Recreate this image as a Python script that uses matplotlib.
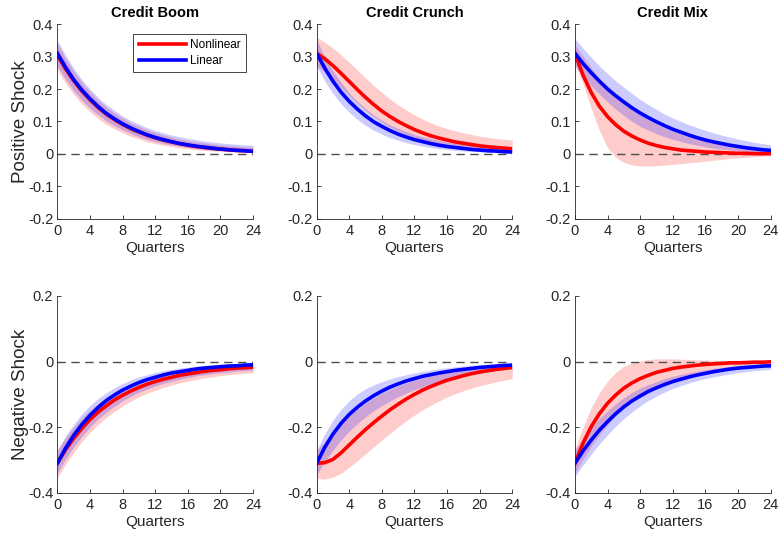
import numpy as np
import matplotlib
matplotlib.use("Agg")
import matplotlib.pyplot as plt

plt.rcParams["font.family"] = ["Liberation Sans", "DejaVu Sans"]
plt.rcParams["axes.unicode_minus"] = False

quarters = np.arange(25)
titles = ["Credit Boom", "Credit Crunch", "Credit Mix"]
row_labels = ["Positive Shock", "Negative Shock"]
x_ticks = [0, 4, 8, 12, 16, 20, 24]

# Positive shock -- Credit Boom
boom_pos_nl = [0.305, 0.262, 0.226, 0.194, 0.167, 0.143, 0.123, 0.106, 0.091, 0.078, 0.068, 0.058, 0.050,
               0.043, 0.037, 0.032, 0.027, 0.023, 0.020, 0.017, 0.015, 0.013, 0.011, 0.010, 0.008]
boom_pos_nl_hi = [0.340, 0.294, 0.255, 0.221, 0.191, 0.166, 0.145, 0.126, 0.110, 0.096, 0.085, 0.074, 0.066,
                  0.058, 0.052, 0.046, 0.041, 0.037, 0.034, 0.031, 0.028, 0.026, 0.024, 0.022, 0.021]
boom_pos_nl_lo = [0.260, 0.218, 0.184, 0.154, 0.130, 0.109, 0.091, 0.077, 0.065, 0.054, 0.046, 0.038, 0.032,
                  0.027, 0.023, 0.019, 0.016, 0.013, 0.011, 0.010, 0.008, 0.007, 0.006, 0.005, 0.004]
boom_pos_lin = [0.310, 0.267, 0.229, 0.197, 0.170, 0.146, 0.125, 0.108, 0.093, 0.080, 0.069, 0.059, 0.051,
                0.044, 0.038, 0.032, 0.028, 0.024, 0.021, 0.018, 0.015, 0.013, 0.011, 0.010, 0.008]
boom_pos_lin_hi = [0.350, 0.304, 0.264, 0.229, 0.200, 0.174, 0.152, 0.134, 0.117, 0.103, 0.092, 0.081, 0.072,
                   0.065, 0.058, 0.053, 0.048, 0.044, 0.040, 0.037, 0.034, 0.032, 0.030, 0.028, 0.027]
boom_pos_lin_lo = [0.270, 0.230, 0.195, 0.166, 0.141, 0.120, 0.102, 0.087, 0.074, 0.063, 0.053, 0.045, 0.038,
                   0.033, 0.028, 0.024, 0.020, 0.017, 0.015, 0.012, 0.011, 0.009, 0.008, 0.006, 0.006]

# Positive shock -- Credit Crunch
crunch_pos_nl = [0.310, 0.293, 0.272, 0.248, 0.223, 0.198, 0.174, 0.152, 0.132, 0.115, 0.100, 0.087, 0.075,
                 0.065, 0.056, 0.049, 0.043, 0.037, 0.033, 0.029, 0.025, 0.022, 0.020, 0.018, 0.016]
crunch_pos_nl_hi = [0.360, 0.344, 0.326, 0.305, 0.282, 0.258, 0.234, 0.211, 0.189, 0.169, 0.151, 0.135, 0.120,
                    0.107, 0.096, 0.086, 0.078, 0.071, 0.065, 0.060, 0.055, 0.051, 0.048, 0.045, 0.043]
crunch_pos_nl_lo = [0.270, 0.252, 0.230, 0.205, 0.180, 0.156, 0.134, 0.115, 0.098, 0.083, 0.070, 0.059, 0.050,
                    0.042, 0.035, 0.029, 0.024, 0.020, 0.017, 0.014, 0.012, 0.010, 0.008, 0.007, 0.006]
crunch_pos_lin = [0.310, 0.264, 0.224, 0.190, 0.162, 0.138, 0.117, 0.099, 0.085, 0.072, 0.061, 0.052, 0.044,
                  0.038, 0.032, 0.027, 0.023, 0.020, 0.017, 0.014, 0.012, 0.010, 0.009, 0.007, 0.006]
crunch_pos_lin_hi = [0.350, 0.299, 0.256, 0.220, 0.188, 0.162, 0.140, 0.120, 0.104, 0.090, 0.079, 0.069, 0.060,
                     0.053, 0.047, 0.042, 0.037, 0.033, 0.030, 0.027, 0.025, 0.023, 0.021, 0.020, 0.019]
crunch_pos_lin_lo = [0.270, 0.224, 0.186, 0.154, 0.128, 0.106, 0.088, 0.073, 0.061, 0.050, 0.042, 0.035, 0.029,
                     0.024, 0.020, 0.016, 0.014, 0.011, 0.009, 0.008, 0.007, 0.005, 0.004, 0.004, 0.003]

# Positive shock -- Credit Mix
mix_pos_nl = [0.310, 0.242, 0.189, 0.147, 0.115, 0.090, 0.070, 0.055, 0.043, 0.033, 0.026, 0.020, 0.016,
              0.012, 0.010, 0.008, 0.006, 0.005, 0.004, 0.003, 0.002, 0.002, 0.001, 0.001, 0.001]
mix_pos_nl_hi = [0.335, 0.300, 0.265, 0.232, 0.203, 0.178, 0.157, 0.138, 0.120, 0.105, 0.092, 0.080, 0.070,
                 0.061, 0.053, 0.046, 0.040, 0.034, 0.029, 0.025, 0.021, 0.018, 0.015, 0.012, 0.010]
mix_pos_nl_lo = [0.280, 0.215, 0.140, 0.072, 0.020, -0.010, -0.026, -0.034, -0.037, -0.037, -0.036, -0.034, -0.032,
                 -0.030, -0.027, -0.025, -0.022, -0.019, -0.017, -0.014, -0.012, -0.010, -0.008, -0.006, -0.005]
mix_pos_lin = [0.310, 0.278, 0.250, 0.224, 0.200, 0.179, 0.160, 0.142, 0.126, 0.112, 0.099, 0.087, 0.076,
               0.067, 0.058, 0.050, 0.043, 0.037, 0.032, 0.027, 0.023, 0.019, 0.016, 0.013, 0.011]
mix_pos_lin_hi = [0.355, 0.325, 0.297, 0.271, 0.247, 0.225, 0.205, 0.186, 0.168, 0.152, 0.137, 0.123, 0.111,
                  0.100, 0.090, 0.081, 0.073, 0.065, 0.058, 0.052, 0.046, 0.041, 0.036, 0.032, 0.028]
mix_pos_lin_lo = [0.270, 0.238, 0.210, 0.184, 0.160, 0.138, 0.118, 0.100, 0.085, 0.073, 0.062, 0.053, 0.045,
                  0.038, 0.032, 0.027, 0.022, 0.018, 0.015, 0.012, 0.010, 0.008, 0.006, 0.004, 0.003]

# Negative shock -- Credit Boom
boom_neg_nl = [-0.310, -0.269, -0.234, -0.204, -0.177, -0.154, -0.135, -0.117, -0.103, -0.090, -0.079, -0.069, -0.061,
               -0.054, -0.048, -0.042, -0.038, -0.034, -0.030, -0.027, -0.025, -0.022, -0.020, -0.019, -0.017]
boom_neg_nl_hi = [-0.270, -0.232, -0.200, -0.172, -0.148, -0.127, -0.109, -0.094, -0.081, -0.070, -0.060, -0.051, -0.044,
                  -0.038, -0.033, -0.028, -0.024, -0.021, -0.018, -0.015, -0.013, -0.011, -0.010, -0.008, -0.007]
boom_neg_nl_lo = [-0.355, -0.313, -0.277, -0.244, -0.216, -0.192, -0.170, -0.152, -0.135, -0.121, -0.108, -0.097, -0.088,
                  -0.079, -0.072, -0.065, -0.060, -0.055, -0.050, -0.047, -0.043, -0.040, -0.038, -0.036, -0.034]
boom_neg_lin = [-0.310, -0.264, -0.225, -0.192, -0.164, -0.140, -0.119, -0.102, -0.087, -0.075, -0.064, -0.055, -0.048,
                -0.041, -0.035, -0.031, -0.027, -0.023, -0.020, -0.018, -0.016, -0.014, -0.013, -0.011, -0.010]
boom_neg_lin_hi = [-0.270, -0.227, -0.191, -0.160, -0.134, -0.113, -0.095, -0.080, -0.067, -0.056, -0.047, -0.040, -0.033,
                   -0.028, -0.024, -0.020, -0.017, -0.014, -0.012, -0.010, -0.008, -0.007, -0.006, -0.005, -0.004]
boom_neg_lin_lo = [-0.340, -0.297, -0.260, -0.228, -0.200, -0.175, -0.154, -0.136, -0.120, -0.106, -0.094, -0.084, -0.074,
                   -0.067, -0.060, -0.054, -0.049, -0.044, -0.040, -0.037, -0.034, -0.032, -0.029, -0.028, -0.026]

# Negative shock -- Credit Crunch
crunch_neg_nl = [-0.310, -0.308, -0.298, -0.278, -0.254, -0.230, -0.207, -0.186, -0.166, -0.147, -0.130, -0.114, -0.100,
                 -0.087, -0.076, -0.066, -0.057, -0.050, -0.043, -0.037, -0.032, -0.028, -0.024, -0.021, -0.018]
crunch_neg_nl_hi = [-0.270, -0.245, -0.215, -0.188, -0.165, -0.145, -0.127, -0.111, -0.097, -0.085, -0.074, -0.065, -0.057,
                    -0.050, -0.044, -0.038, -0.034, -0.030, -0.026, -0.023, -0.020, -0.018, -0.016, -0.014, -0.012]
crunch_neg_nl_lo = [-0.355, -0.358, -0.352, -0.340, -0.322, -0.302, -0.281, -0.260, -0.239, -0.219, -0.199, -0.180, -0.163,
                    -0.147, -0.133, -0.120, -0.108, -0.098, -0.089, -0.081, -0.074, -0.068, -0.062, -0.057, -0.052]
crunch_neg_lin = [-0.310, -0.261, -0.221, -0.188, -0.161, -0.139, -0.120, -0.104, -0.090, -0.078, -0.068, -0.059, -0.052,
                  -0.045, -0.040, -0.035, -0.031, -0.027, -0.024, -0.021, -0.018, -0.016, -0.014, -0.012, -0.011]
crunch_neg_lin_hi = [-0.270, -0.220, -0.178, -0.145, -0.119, -0.099, -0.083, -0.071, -0.061, -0.053, -0.046, -0.040, -0.035,
                     -0.030, -0.026, -0.022, -0.019, -0.016, -0.014, -0.012, -0.010, -0.009, -0.008, -0.007, -0.006]
crunch_neg_lin_lo = [-0.345, -0.305, -0.270, -0.239, -0.212, -0.189, -0.168, -0.150, -0.134, -0.120, -0.107, -0.096, -0.086,
                     -0.077, -0.069, -0.062, -0.055, -0.049, -0.044, -0.039, -0.035, -0.031, -0.028, -0.025, -0.022]

# Negative shock -- Credit Mix
mix_neg_nl = [-0.310, -0.248, -0.198, -0.159, -0.127, -0.102, -0.081, -0.065, -0.052, -0.042, -0.033, -0.027, -0.021,
              -0.017, -0.014, -0.011, -0.009, -0.007, -0.006, -0.004, -0.004, -0.003, -0.002, -0.002, -0.001]
mix_neg_nl_hi = [-0.265, -0.200, -0.140, -0.095, -0.060, -0.033, -0.015, -0.004, 0.002, 0.006, 0.008, 0.008, 0.008,
                 0.007, 0.006, 0.005, 0.005, 0.004, 0.003, 0.003, 0.002, 0.002, 0.001, 0.001, 0.001]
mix_neg_nl_lo = [-0.340, -0.297, -0.258, -0.223, -0.192, -0.165, -0.142, -0.122, -0.105, -0.090, -0.078, -0.067, -0.057,
                 -0.049, -0.042, -0.036, -0.031, -0.026, -0.022, -0.019, -0.016, -0.014, -0.012, -0.010, -0.008]
mix_neg_lin = [-0.310, -0.272, -0.239, -0.209, -0.183, -0.159, -0.138, -0.120, -0.105, -0.091, -0.080, -0.070, -0.061,
               -0.054, -0.047, -0.041, -0.036, -0.031, -0.027, -0.023, -0.020, -0.018, -0.016, -0.014, -0.013]
mix_neg_lin_hi = [-0.270, -0.234, -0.202, -0.174, -0.150, -0.129, -0.110, -0.094, -0.081, -0.070, -0.061, -0.052, -0.045,
                  -0.039, -0.034, -0.029, -0.025, -0.021, -0.018, -0.015, -0.013, -0.011, -0.009, -0.008, -0.007]
mix_neg_lin_lo = [-0.350, -0.315, -0.282, -0.251, -0.223, -0.197, -0.174, -0.153, -0.135, -0.119, -0.105, -0.093, -0.082,
                  -0.073, -0.065, -0.058, -0.052, -0.047, -0.042, -0.038, -0.034, -0.031, -0.028, -0.026, -0.024]

panels = [
    [(boom_pos_nl, boom_pos_nl_lo, boom_pos_nl_hi, boom_pos_lin, boom_pos_lin_lo, boom_pos_lin_hi),
     (crunch_pos_nl, crunch_pos_nl_lo, crunch_pos_nl_hi, crunch_pos_lin, crunch_pos_lin_lo, crunch_pos_lin_hi),
     (mix_pos_nl, mix_pos_nl_lo, mix_pos_nl_hi, mix_pos_lin, mix_pos_lin_lo, mix_pos_lin_hi)],
    [(boom_neg_nl, boom_neg_nl_lo, boom_neg_nl_hi, boom_neg_lin, boom_neg_lin_lo, boom_neg_lin_hi),
     (crunch_neg_nl, crunch_neg_nl_lo, crunch_neg_nl_hi, crunch_neg_lin, crunch_neg_lin_lo, crunch_neg_lin_hi),
     (mix_neg_nl, mix_neg_nl_lo, mix_neg_nl_hi, mix_neg_lin, mix_neg_lin_lo, mix_neg_lin_hi)],
]

y_limits = [(-0.2, 0.4), (-0.4, 0.2)]
y_ticks = [[-0.2, -0.1, 0, 0.1, 0.2, 0.3, 0.4], [-0.4, -0.2, 0, 0.2]]
y_ticklabels = [["-0.2", "-0.1", "0", "0.1", "0.2", "0.3", "0.4"], ["-0.4", "-0.2", "0", "0.2"]]

grey = (0.15, 0.15, 0.15)
lefts = [0.0737, 0.407, 0.739]
bottoms = [0.590, 0.077]
heights = [0.365, 0.369]
width = 0.2515

fig = plt.figure(figsize=(7.78, 5.34), dpi=100)

for r in range(2):
    for c in range(3):
        ax = fig.add_axes([lefts[c], bottoms[r], width, heights[r]])
        nl, nl_lo, nl_hi, lin, lin_lo, lin_hi = panels[r][c]

        # Confidence bands first, then the zero line and the responses.
        ax.fill_between(quarters, nl_lo, nl_hi, color="red", alpha=0.2, linewidth=0)
        ax.fill_between(quarters, lin_lo, lin_hi, color="blue", alpha=0.2, linewidth=0)
        ax.plot(quarters, np.zeros(len(quarters)), color=(0.3, 0.3, 0.3), linestyle=(0, (6, 4)), linewidth=1)
        ax.plot(quarters, nl, color="red", linewidth=2.6, label="Nonlinear")
        ax.plot(quarters, lin, color="blue", linewidth=2.6, label="Linear")

        ax.set_xlim(0, 24)
        ax.set_ylim(*y_limits[r])
        ax.set_xticks(x_ticks)
        ax.set_yticks(y_ticks[r])
        ax.set_yticklabels(y_ticklabels[r])
        ax.tick_params(direction="in", length=3, width=0.6, colors=grey, labelsize=10.5)
        ax.tick_params(axis="x", pad=4)
        ax.tick_params(axis="y", pad=3)
        ax.set_xlabel("Quarters", fontsize=11, color=grey, labelpad=1.5)

        for side in ["top", "right"]:
            ax.spines[side].set_visible(False)
        for side in ["left", "bottom"]:
            ax.spines[side].set_color(grey)
            ax.spines[side].set_linewidth(0.6)

        if r == 0:
            ax.set_title(titles[c], fontsize=10.5, fontweight="bold", pad=5)
        if c == 0:
            ax.set_ylabel(row_labels[r], fontsize=13.5, color=grey, labelpad=-1)
        if r == 0 and c == 0:
            leg = ax.legend(loc="upper right", bbox_to_anchor=(0.964, 0.949), fontsize=8.5,
                            handlelength=4.0, handletextpad=0.35, borderpad=0.45, labelspacing=0.3,
                            fancybox=False, framealpha=1, borderaxespad=0)
            leg.get_frame().set_edgecolor(grey)
            leg.get_frame().set_linewidth(0.6)

fig.savefig("out.png", dpi=100)
